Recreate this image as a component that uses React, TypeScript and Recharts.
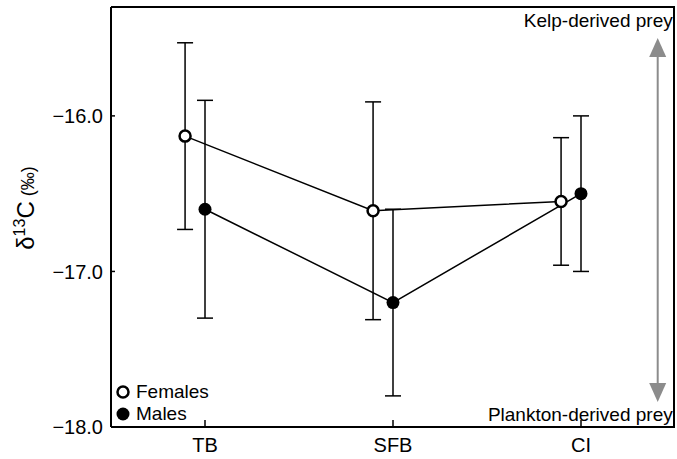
import React from 'react';
import {
  ComposedChart,
  Line,
  XAxis,
  YAxis,
  ErrorBar,
  Legend,
  ReferenceLine,
} from 'recharts';

const sites = ['TB', 'SFB', 'CI'];
const femaleMeans = [-16.13, -16.61, -16.55];
const femaleErr = [0.6, 0.7, 0.41];
const maleMeans = [-16.6, -17.2, -16.5];
const maleErr = [0.7, 0.6, 0.5];
const yTicks = [-18, -17, -16];

// horizontal dodge of the female points, in category units
const FEMALE_DODGE = -0.106;

const X_DOMAIN = [-0.5, 2.5];
const Y_DOMAIN = [-18, -15.3];

const FONT = '"Liberation Sans", Arial, Helvetica, sans-serif';

const females = sites.map((s, i) => ({ x: i + FEMALE_DODGE, y: femaleMeans[i], err: femaleErr[i] }));
const males = sites.map((s, i) => ({ x: i, y: maleMeans[i], err: maleErr[i] }));

const fmtY = (v: number) => '\u2212' + Math.abs(v).toFixed(1);

function PreyArrow(props: any) {
  const { x1, y1, x2, y2 } = props;
  const head = 19;
  const half = 8.5;
  const grey = '#8c8c8c';
  return (
    <g>
      <line x1={x1} y1={y1 + head} x2={x2} y2={y2 - head} stroke={grey} strokeWidth={2} />
      <polygon points={`${x1},${y1} ${x1 - half},${y1 + head} ${x1 + half},${y1 + head}`} fill={grey} />
      <polygon points={`${x2},${y2} ${x2 - half},${y2 - head} ${x2 + half},${y2 - head}`} fill={grey} />
      <text x={x1 + 15} y={y1 - 11} textAnchor="end" fontSize={19} fontFamily={FONT} fill="#000">
        Kelp-derived prey
      </text>
      <text x={x2 + 15} y={y2 + 19} textAnchor="end" fontSize={19} fontFamily={FONT} fill="#000">
        Plankton-derived prey
      </text>
    </g>
  );
}

function YLabel(props: any) {
  const { viewBox } = props;
  const cx = viewBox.x + 34;
  const cy = 208;
  return (
    <text
      x={cx}
      y={cy}
      transform={`rotate(-90 ${cx} ${cy})`}
      textAnchor="middle"
      fontFamily={FONT}
      fill="#000"
      fontSize={24}
    >
      <tspan>δ</tspan>
      <tspan fontSize={16} dy={-9}>13</tspan>
      <tspan dy={9}>C</tspan>
      <tspan fontSize={18}> (‰)</tspan>
    </text>
  );
}

function SexLegend() {
  const row = { display: 'flex', alignItems: 'center', height: 22 };
  const txt = { fontFamily: FONT, fontSize: 19, color: '#000', marginLeft: 5, lineHeight: '22px' };
  return (
    <div>
      <div style={row}>
        <svg width={16} height={16}>
          <circle cx={8} cy={8} r={5.5} fill="#fff" stroke="#000" strokeWidth={2.5} />
        </svg>
        <span style={txt}>Females</span>
      </div>
      <div style={row}>
        <svg width={16} height={16}>
          <circle cx={8} cy={8} r={6.5} fill="#000" />
        </svg>
        <span style={txt}>Males</span>
      </div>
    </div>
  );
}

export default function App() {
  return (
    <div style={{ position: 'absolute', left: 0, top: 0, width: 677, height: 459, background: '#fff' }}>
      <ComposedChart width={677} height={459} margin={{ top: 7, right: 2, left: 0, bottom: 0 }}>
        <XAxis
          dataKey="x"
          type="number"
          domain={X_DOMAIN}
          ticks={[0, 1, 2]}
          allowDataOverflow
          tickFormatter={(v: number) => sites[v]}
          height={32}
          tickSize={-7}
          tickMargin={18}
          axisLine={{ stroke: '#000', strokeWidth: 2 }}
          tickLine={{ stroke: '#000', strokeWidth: 1.5 }}
          tick={{ fill: '#000', fontSize: 20, fontFamily: FONT }}
        />
        <YAxis
          type="number"
          domain={Y_DOMAIN}
          ticks={yTicks}
          allowDataOverflow
          width={111}
          tickFormatter={fmtY}
          tickSize={-4}
          tickMargin={12}
          axisLine={{ stroke: '#000', strokeWidth: 2 }}
          tickLine={{ stroke: '#000', strokeWidth: 1.5 }}
          tick={{ fill: '#000', fontSize: 20, fontFamily: FONT }}
          label={<YLabel />}
        />
        <ReferenceLine
          segment={[
            { x: 2.408, y: -15.5 },
            { x: 2.408, y: -17.84 },
          ]}
          ifOverflow="visible"
          shape={<PreyArrow />}
        />
        <Line
          data={males}
          dataKey="y"
          stroke="#000"
          strokeWidth={1.5}
          isAnimationActive={false}
          dot={{ r: 6.5, fill: '#000', stroke: '#000', strokeWidth: 0 }}
          activeDot={false}
        >
          <ErrorBar dataKey="err" direction="y" width={8} stroke="#000" strokeWidth={1.5} isAnimationActive={false} />
        </Line>
        <Line
          data={females}
          dataKey="y"
          stroke="#000"
          strokeWidth={1.5}
          isAnimationActive={false}
          dot={{ r: 5.5, fill: '#fff', stroke: '#000', strokeWidth: 2.5 }}
          activeDot={false}
        >
          <ErrorBar dataKey="err" direction="y" width={8} stroke="#000" strokeWidth={1.5} isAnimationActive={false} />
        </Line>
        <Legend
          layout="vertical"
          align="center"
          verticalAlign="middle"
          wrapperStyle={{ left: 115, top: 381, width: 'auto' }}
          content={<SexLegend />}
        />
      </ComposedChart>
      {/* top and right sides of the plot frame */}
      <div
        style={{
          position: 'absolute',
          left: 111,
          top: 6,
          width: 564,
          height: 421,
          borderTop: '2px solid #000',
          borderRight: '2px solid #000',
          boxSizing: 'border-box',
          pointerEvents: 'none',
        }}
      />
    </div>
  );
}
